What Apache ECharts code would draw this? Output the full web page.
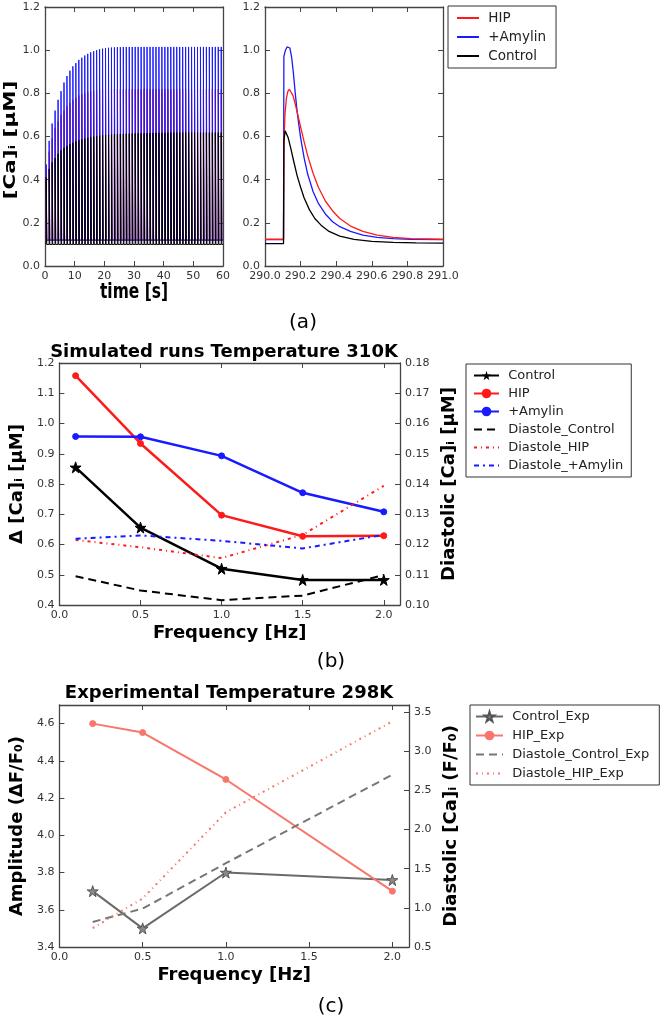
<!DOCTYPE html>
<html><head><meta charset="utf-8">
<script src="https://cdn.jsdelivr.net/npm/echarts@6/dist/echarts.min.js"></script>
<style>html,body{margin:0;padding:0;background:#fff}#c{width:664px;height:1020px}</style>
</head><body><div id="c"></div>
<script>
// ---------- Panel (a) left: per-beat peak values (1 Hz, 60 beats) ----------
const aBeatOffset = [0.4];
const aPeakAmylin = [0.47,0.58,0.66,0.72,0.77,0.81,0.85,0.88,0.905,0.925,
  0.94,0.955,0.965,0.975,0.983,0.99,0.995,1.0,1.004,1.007,
  1.009,1.011,1.012,1.013,1.014,1.014,1.015,1.015,1.015,1.015,
  1.015,1.015,1.015,1.015,1.015,1.015,1.015,1.015,1.015,1.015,
  1.015,1.015,1.015,1.015,1.015,1.015,1.015,1.015,1.015,1.015,
  1.015,1.015,1.015,1.015,1.015,1.015,1.015,1.015,1.015,1.015];
const aPeakHIP = [0.45,0.53,0.59,0.64,0.67,0.70,0.72,0.74,0.755,0.77,
  0.78,0.79,0.795,0.80,0.805,0.81,0.812,0.814,0.816,0.818,
  0.819,0.819,0.819,0.819,0.819,0.819,0.819,0.819,0.819,0.819,
  0.819,0.819,0.819,0.819,0.819,0.819,0.819,0.819,0.819,0.819,
  0.819,0.819,0.819,0.819,0.819,0.819,0.819,0.819,0.819,0.819,
  0.819,0.819,0.819,0.819,0.819,0.819,0.819,0.819,0.819,0.819];
const aPeakControl = [0.41,0.45,0.48,0.50,0.52,0.535,0.547,0.556,0.564,0.571,
  0.577,0.582,0.587,0.59,0.594,0.597,0.6,0.602,0.604,0.606,
  0.607,0.608,0.609,0.61,0.611,0.612,0.612,0.613,0.613,0.614,
  0.614,0.615,0.615,0.615,0.616,0.616,0.616,0.617,0.617,0.617,
  0.617,0.618,0.618,0.618,0.618,0.618,0.618,0.618,0.618,0.618,
  0.618,0.618,0.618,0.618,0.618,0.618,0.618,0.618,0.618,0.618];
const aBaseAmylin = [0.12], aBaseHIP = [0.12], aBaseControl = [0.10];

// ---------- Panel (a) right: single beat [t, value] ----------
const beatAmylin = [[290,0.122],[290.104,0.122],[290.106,0.97],[290.115,1.0],[290.124,1.015],[290.132,1.019],[290.14,1.01],[290.15,0.965],[290.16,0.89],[290.17,0.80],[290.18,0.72],[290.19,0.655],[290.2,0.595],[290.22,0.50],[290.24,0.425],[290.27,0.345],[290.3,0.29],[290.34,0.24],[290.38,0.205],[290.42,0.182],[290.48,0.16],[290.55,0.143],[290.63,0.133],[290.72,0.127],[290.82,0.124],[291,0.122]];
const beatHIP = [[290,0.124],[290.104,0.124],[290.106,0.55],[290.112,0.70],[290.12,0.775],[290.128,0.808],[290.137,0.819],[290.146,0.813],[290.158,0.788],[290.17,0.75],[290.18,0.715],[290.19,0.68],[290.2,0.645],[290.22,0.575],[290.24,0.51],[290.27,0.43],[290.3,0.365],[290.34,0.30],[290.38,0.255],[290.42,0.22],[290.48,0.185],[290.55,0.16],[290.63,0.143],[290.72,0.133],[290.82,0.127],[291,0.124]];
const beatControl = [[290,0.104],[290.104,0.104],[290.106,0.58],[290.113,0.626],[290.12,0.62],[290.13,0.595],[290.145,0.545],[290.16,0.49],[290.18,0.42],[290.2,0.365],[290.22,0.315],[290.25,0.26],[290.28,0.22],[290.32,0.185],[290.36,0.16],[290.42,0.138],[290.5,0.123],[290.6,0.114],[290.72,0.109],[290.85,0.107],[291,0.106]];

// ---------- Panel (b) ----------
const bFreq = [0.1,0.5,1.0,1.5,2.0];
const bControl = [0.855,0.656,0.520,0.483,0.483];
const bHIP = [1.158,0.934,0.697,0.627,0.629];
const bAmylin = [0.957,0.956,0.893,0.771,0.708];
const bDiaControl = [0.1095,0.1048,0.1016,0.1031,0.1099];
const bDiaHIP = [0.1215,0.1191,0.1155,0.1232,0.1394];
const bDiaAmylin = [0.1219,0.1230,0.1212,0.1187,0.1232];

// ---------- Panel (c) ----------
const cFreq = [0.2,0.5,1.0,2.0];
const cControl = [3.70,3.50,3.80,3.76];
const cHIP = [4.60,4.552,4.30,3.70];
const cDiaControl = [0.82,0.99,1.57,2.70];
const cDiaHIP = [0.74,1.12,2.22,3.38];

// ---------- build ----------
function beatTrain(peaks, base, offset){
  const out = [];
  peaks.forEach((p,k)=>{
    const t = k + offset;
    out.push([t, base]); out.push([t, p]); out.push([t+0.2, base]);
  });
  out.push([60, base]);
  return out;
}
const pair = (xs, ys) => xs.map((x,i)=>[x, ys[i]]);

const FONT = 'DejaVu Sans';
const AX = '#444';
const star = 'path://M50,0 L61,35 L98,35 L68,57 L79,91 L50,70 L21,91 L32,57 L2,35 L39,35 Z';

function axisBase(extra){
  return Object.assign({
    type:'value',
    axisLine:{show:true, onZero:false, lineStyle:{color:AX, width:1.3}},
    axisTick:{show:true, inside:true, length:5, lineStyle:{color:AX, width:1}},
    splitLine:{show:false},
    axisLabel:{color:'#333', fontSize:11, fontFamily:FONT, margin:5},
    nameTextStyle:{fontFamily:FONT, fontWeight:'bold', fontSize:18, color:'#000'}
  }, extra);
}
function mirror(extra){
  const a = axisBase(extra);
  a.axisLabel = {show:false};
  return a;
}
const lbl = (f, extra) => Object.assign({color:'#333', fontSize:11, fontFamily:FONT, margin:5, formatter:f}, extra||{});
const fmt1 = v => v.toFixed(1);
const fmt2 = v => v.toFixed(2);

const grids = [
  {left:45, top:7, width:178, height:259},
  {left:265, top:7, width:178, height:259},
  {left:47, top:363, width:353, height:242},
  {left:47, top:705, width:362, height:242}
];

const xAxes = [
  axisBase({gridIndex:0, min:0, max:60, interval:10}),
  mirror({gridIndex:0, position:'top', min:0, max:60, interval:10}),
  axisBase({gridIndex:1, min:290, max:291, interval:0.2, axisLabel:lbl(fmt1)}),
  mirror({gridIndex:1, position:'top', min:290, max:291, interval:0.2}),
  axisBase({gridIndex:2, min:0, max:2.1, interval:0.5, name:'Frequency [Hz]', nameLocation:'middle', nameGap:19,
    axisLabel:lbl(fmt1,{showMaxLabel:false})}),
  mirror({gridIndex:2, position:'top', min:0, max:2.1, interval:0.5}),
  axisBase({gridIndex:3, min:0, max:2.1, interval:0.5, name:'Frequency [Hz]', nameLocation:'middle', nameGap:19,
    axisLabel:lbl(fmt1,{showMaxLabel:false})}),
  mirror({gridIndex:3, position:'top', min:0, max:2.1, interval:0.5})
];
const yAxes = [
  axisBase({gridIndex:0, min:0, max:1.2, interval:0.2, axisLabel:lbl(fmt1)}),
  mirror({gridIndex:0, position:'right', min:0, max:1.2, interval:0.2}),
  axisBase({gridIndex:1, min:0, max:1.2, interval:0.2, axisLabel:lbl(fmt1)}),
  mirror({gridIndex:1, position:'right', min:0, max:1.2, interval:0.2}),
  axisBase({gridIndex:2, min:0.4, max:1.2, interval:0.1, name:'Δ [Ca]ᵢ [μM]', nameLocation:'middle', nameGap:26,
    axisLabel:lbl(fmt1)}),
  axisBase({gridIndex:2, position:'right', min:0.10, max:0.18, interval:0.01, name:'Diastolic [Ca]ᵢ [μM]', nameLocation:'middle', nameGap:35, nameRotate:90,
    axisLabel:lbl(fmt2)}),
  axisBase({gridIndex:3, min:3.4, max:4.7, interval:0.2, name:'Amplitude (ΔF/F₀)', nameLocation:'middle', nameGap:28,
    axisLabel:lbl(fmt1,{showMaxLabel:false})}),
  axisBase({gridIndex:3, position:'right', min:0.5, max:3.59, interval:0.5, name:'Diastolic [Ca]ᵢ (F/F₀)', nameLocation:'middle', nameGap:30, nameRotate:90,
    axisLabel:lbl(fmt1,{showMaxLabel:false})})
];

const RED = '#ff1a1a', BLUE = '#1a1aff', BLACK = '#000000';
const GRAY = '#6a6a6a', SALMON = '#f8766b';

function line(name, xi, yi, data, color, width, type, symbol, symbolSize, extra){
  return Object.assign({
    name, type:'line', xAxisIndex:xi, yAxisIndex:yi, data,
    symbol: symbol || 'none', symbolSize: symbolSize || 0, showSymbol: !!symbol,
    lineStyle:{color, width, type: type || 'solid'},
    itemStyle:{color, borderColor:color},
    animation:false, silent:true
  }, extra||{});
}

const series = [
  line('aL_HIP', 0, 0, beatTrain(aPeakHIP, aBaseHIP[0], aBeatOffset[0]), RED, 1),
  line('aL_Amylin', 0, 0, beatTrain(aPeakAmylin, aBaseAmylin[0], aBeatOffset[0]), BLUE, 1),
  line('aL_Control', 0, 0, beatTrain(aPeakControl, aBaseControl[0], aBeatOffset[0]), BLACK, 1),
  line('a_+Amylin', 2, 2, beatAmylin, BLUE, 1.3),
  line('a_HIP', 2, 2, beatHIP, RED, 1.3),
  line('a_Control', 2, 2, beatControl, BLACK, 1.3),

  line('b_Control', 4, 4, pair(bFreq,bControl), BLACK, 2.5, 'solid', star, 11),
  line('b_HIP', 4, 4, pair(bFreq,bHIP), RED, 2.5, 'solid', 'circle', 6),
  line('b_+Amylin', 4, 4, pair(bFreq,bAmylin), BLUE, 2.5, 'solid', 'circle', 6),
  line('b_Diastole_Control', 4, 5, pair(bFreq,bDiaControl), BLACK, 2, [8,5]),
  line('b_Diastole_HIP', 4, 5, pair(bFreq,bDiaHIP), RED, 2, [3,4,1,4]),
  line('b_Diastole_+Amylin', 4, 5, pair(bFreq,bDiaAmylin), BLUE, 2, [5,4,2,4]),

  line('c_Control_Exp', 6, 6, pair(cFreq,cControl), GRAY, 2, 'solid', star, 11, {itemStyle:{color:'#888', borderColor:'#555', borderWidth:1}}),
  line('c_HIP_Exp', 6, 6, pair(cFreq,cHIP), SALMON, 2, 'solid', 'circle', 6),
  line('c_Diastole_Control_Exp', 6, 7, pair(cFreq,cDiaControl), '#777', 2, [8,5]),
  line('c_Diastole_HIP_Exp', 6, 7, pair(cFreq,cDiaHIP), SALMON, 2, [2,4,1,4])
];

const legendText = {fontSize:13, fontFamily:FONT, color:'#222'};
const stripName = n => ' ' + n.replace(/^[abc]_/, '');
const noSym = n => ({name:n, itemStyle:{opacity:0}});
const legends = [
  {data:[noSym('a_HIP'),noSym('a_+Amylin'),noSym('a_Control')], left:448, top:6, orient:'vertical', itemWidth:22, itemHeight:12, itemGap:5,
   padding:[5,10,5,8], borderColor:'#333', borderWidth:1, textStyle:Object.assign({}, legendText, {fontSize:13.5}), formatter:stripName, selectedMode:false},
  {data:['b_Control','b_HIP','b_+Amylin',noSym('b_Diastole_Control'),noSym('b_Diastole_HIP'),noSym('b_Diastole_+Amylin')], left:466, top:364, orient:'vertical',
   itemWidth:25, itemHeight:12, itemGap:5, padding:[5,8,5,7], borderColor:'#333', borderWidth:1, textStyle:legendText, formatter:stripName, selectedMode:false},
  {data:['c_Control_Exp','c_HIP_Exp',noSym('c_Diastole_Control_Exp'),noSym('c_Diastole_HIP_Exp')], left:470, top:705, orient:'vertical',
   itemWidth:27, itemHeight:12, itemGap:6, padding:[5,10,5,5], borderColor:'#333', borderWidth:1, textStyle:legendText, formatter:stripName, selectedMode:false}
];

const graphics = [
  {type:'text', x:224, y:352, style:{text:'Simulated runs Temperature 310K', font:'bold 18px "DejaVu Sans"', fill:'#000', textAlign:'center', textVerticalAlign:'middle'}},
  {type:'text', x:229, y:693, style:{text:'Experimental Temperature 298K', font:'bold 18px "DejaVu Sans"', fill:'#000', textAlign:'center', textVerticalAlign:'middle'}},
  {type:'text', x:134, y:293, scaleY:1.35, style:{text:'time [s]', font:'bold 15.5px "DejaVu Sans"', fill:'#000', textAlign:'center', textVerticalAlign:'middle'}},
  {type:'text', x:11, y:140, rotation:Math.PI/2, scaleX:1.38, style:{text:'[Ca]ᵢ [μM]', font:'bold 15.5px "DejaVu Sans"', fill:'#000', textAlign:'center', textVerticalAlign:'middle'}},
  {type:'text', x:303, y:323, style:{text:'(a)', font:'20px "DejaVu Sans"', fill:'#000', textAlign:'center', textVerticalAlign:'middle'}},
  {type:'text', x:331, y:662, style:{text:'(b)', font:'20px "DejaVu Sans"', fill:'#000', textAlign:'center', textVerticalAlign:'middle'}},
  {type:'text', x:331, y:1007, style:{text:'(c)', font:'20px "DejaVu Sans"', fill:'#000', textAlign:'center', textVerticalAlign:'middle'}}
];

const chart = echarts.init(document.getElementById('c'), null, {renderer:'canvas'});
chart.setOption({
  backgroundColor:'#fff',
  animation:false,
  grid:grids, xAxis:xAxes, yAxis:yAxes, series, legend:legends, graphic:graphics
});
</script></body></html>
